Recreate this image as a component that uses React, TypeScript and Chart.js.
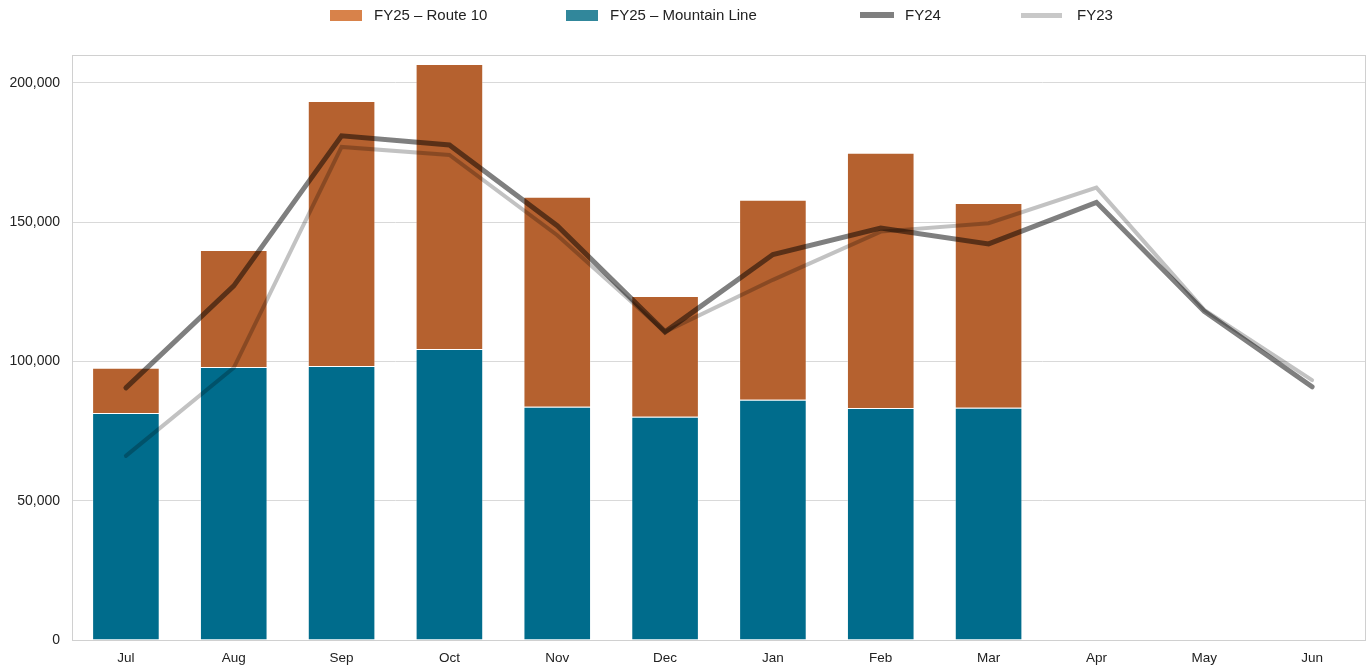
import React, { useEffect, useRef } from "react";
import { Chart, registerables } from "chart.js";

Chart.register(...registerables);

const months = ["Jul", "Aug", "Sep", "Oct", "Nov", "Dec", "Jan", "Feb", "Mar", "Apr", "May", "Jun"];
const fy25MountainLine = [81500, 98000, 98400, 104500, 83700, 80100, 86200, 83300, 83400, null, null, null];
const fy25Route10 = [16200, 42000, 95100, 102300, 75400, 43400, 71800, 91600, 73500, null, null, null];
const fy24 = [90500, 127100, 181000, 177700, 148700, 110600, 138400, 147900, 142200, 157100, 118000, 90900];
const fy23 = [66100, 97700, 177000, 174100, 145300, 110600, 129300, 146600, 149600, 162400, 118500, 93300];
const yTicks = [0, 50000, 100000, 150000, 200000];

const legendItems = [
  { label: "FY25 – Route 10", color: "#D8824A", left: 330, w: 32, h: 11, gap: 12 },
  { label: "FY25 – Mountain Line", color: "#31879B", left: 566, w: 32, h: 11, gap: 12 },
  { label: "FY24", color: "#7F7F7F", left: 860, w: 34, h: 6, gap: 11 },
  { label: "FY23", color: "#C8C8C8", left: 1021, w: 41, h: 5, gap: 15 },
];

const borderPlugin = {
  id: "plotBorder",
  beforeDatasetsDraw(chart: any) {
    const { ctx, chartArea } = chart;
    ctx.save();
    ctx.strokeStyle = "#D0D0D0";
    ctx.lineWidth = 1;
    ctx.strokeRect(
      Math.round(chartArea.left) + 0.5,
      Math.round(chartArea.top) + 0.5,
      Math.round(chartArea.right - chartArea.left) - 1,
      Math.round(chartArea.bottom - chartArea.top)
    );
    ctx.restore();
  },
};

export default function App() {
  const ref = useRef<HTMLCanvasElement | null>(null);

  useEffect(() => {
    if (!ref.current) return;
    const family = "'Liberation Sans', Arial, sans-serif";
    const chart = new Chart(ref.current, {
      type: "bar",
      data: {
        labels: months,
        datasets: [
          {
            type: "line",
            label: "FY24",
            data: fy24,
            borderColor: "rgba(0,0,0,0.5)",
            backgroundColor: "rgba(0,0,0,0.5)",
            borderWidth: 5,
            pointRadius: 0,
            borderCapStyle: "round",
            borderJoinStyle: "miter",
            tension: 0,
            stack: "l24",
            order: 0,
          } as any,
          {
            type: "line",
            label: "FY23",
            data: fy23,
            borderColor: "rgba(0,0,0,0.24)",
            backgroundColor: "rgba(0,0,0,0.24)",
            borderWidth: 4,
            pointRadius: 0,
            borderCapStyle: "round",
            borderJoinStyle: "miter",
            tension: 0,
            stack: "l23",
            order: 1,
          } as any,
          {
            label: "FY25 – Mountain Line",
            data: fy25MountainLine,
            backgroundColor: "#006C8C",
            borderColor: "rgba(255,255,255,0.35)",
            borderWidth: 1,
            stack: "bars",
            order: 2,
          } as any,
          {
            label: "FY25 – Route 10",
            data: fy25Route10,
            backgroundColor: "#B5612F",
            borderColor: "rgba(255,255,255,0.35)",
            borderWidth: 1,
            stack: "bars",
            order: 3,
          } as any,
        ],
      },
      options: {
        animation: false,
        responsive: false,
        maintainAspectRatio: false,
        layout: { padding: { top: 55, right: 1, left: 0, bottom: 0 } },
        datasets: { bar: { barPercentage: 0.627, categoryPercentage: 1 } },
        plugins: { legend: { display: false }, tooltip: { enabled: false } },
        scales: {
          x: {
            stacked: true,
            grid: { display: false, drawTicks: false },
            border: { display: false },
            ticks: { font: { family, size: 13.5 }, color: "#222", padding: 10, maxRotation: 0 },
            afterFit(scale: any) {
              scale.height = 29;
            },
          },
          y: {
            stacked: true,
            min: 0,
            max: 210000,
            afterBuildTicks(scale: any) {
              scale.ticks = yTicks.map((v) => ({ value: v }));
            },
            grid: { color: "#D9D9D9", drawTicks: false, lineWidth: 1 },
            border: { display: false },
            ticks: {
              font: { family, size: 14 },
              color: "#222",
              padding: 12,
              callback: (v: any) => Number(v).toLocaleString("en-US"),
            },
            afterFit(scale: any) {
              scale.width = 72;
            },
          },
        },
      },
      plugins: [borderPlugin],
    });
    return () => chart.destroy();
  }, []);

  return (
    <div style={{ position: "absolute", left: 0, top: 0, width: 1367, height: 669, background: "#fff" }}>
      <canvas ref={ref} width={1367} height={669} style={{ position: "absolute", left: 0, top: 0 }} />
      {legendItems.map((it) => (
        <div
          key={it.label}
          style={{
            position: "absolute",
            left: it.left,
            top: 4,
            height: 20,
            display: "flex",
            alignItems: "center",
            fontFamily: "'Liberation Sans', Arial, sans-serif",
            fontSize: 15,
            color: "#222",
            whiteSpace: "nowrap",
          }}
        >
          <span style={{ display: "inline-block", width: it.w, height: it.h, background: it.color, marginRight: it.gap, marginTop: 2 }} />
          <span>{it.label}</span>
        </div>
      ))}
    </div>
  );
}
